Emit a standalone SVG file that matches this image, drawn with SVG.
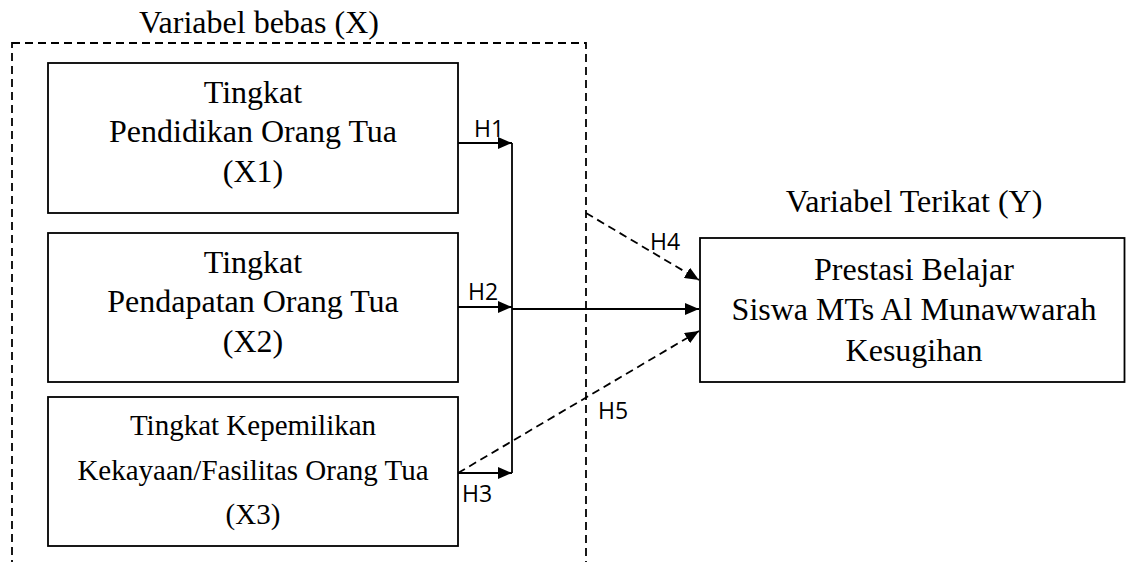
<svg xmlns="http://www.w3.org/2000/svg" width="1126" height="562" viewBox="0 0 1126 562">
<style>
.box{fill:#fff;stroke:#000;stroke-width:1.8}
.t{font-family:"Liberation Serif","Times New Roman",serif;font-size:32px;fill:#000;text-anchor:middle}
.ts{font-family:"Liberation Serif","Times New Roman",serif;font-size:29px;fill:#000;text-anchor:middle}
.h{font-family:"Open Sans","Liberation Sans",sans-serif;font-size:23px;fill:#000}
.ln{fill:none;stroke:#000;stroke-width:1.8}
.dl{fill:none;stroke:#000;stroke-width:1.8;stroke-dasharray:8 5}
</style>
<defs>
<marker id="ah" markerWidth="14" markerHeight="12" refX="14" refY="6" orient="auto" markerUnits="userSpaceOnUse">
<path d="M0,0 L14,6 L0,12 Z" fill="#000"/>
</marker>
</defs>
<g id="group-x">
<rect x="12" y="43" width="574" height="540" class="dl"/>
<text x="259" y="33" class="t">Variabel bebas (X)</text>
</g>
<g id="x1">
<rect x="48" y="63" width="410" height="150" class="box"/>
<text x="253" y="103" class="t">Tingkat</text>
<text x="253" y="142" class="t">Pendidikan Orang Tua</text>
<text x="253" y="182" class="t">(X1)</text>
</g>
<g id="x2">
<rect x="48" y="233" width="410" height="149" class="box"/>
<text x="253" y="273" class="t">Tingkat</text>
<text x="253" y="312" class="t">Pendapatan Orang Tua</text>
<text x="253" y="352" class="t">(X2)</text>
</g>
<g id="x3">
<rect x="48" y="397" width="410" height="149" class="box"/>
<text x="253" y="435" class="ts">Tingkat Kepemilikan</text>
<text x="253" y="480" class="ts">Kekayaan/Fasilitas Orang Tua</text>
<text x="253" y="524" class="ts">(X3)</text>
</g>
<g id="y">
<text x="914" y="212" class="t">Variabel Terikat (Y)</text>
<rect x="700" y="238" width="424.5" height="144" class="box"/>
<text x="914" y="280" class="t">Prestasi Belajar</text>
<text x="914" y="320" class="t">Siswa MTs Al Munawwarah</text>
<text x="914" y="361" class="t">Kesugihan</text>
</g>
<g id="connectors">
<line x1="458" y1="143" x2="512" y2="143" class="ln" marker-end="url(#ah)"/>
<line x1="458" y1="307" x2="512" y2="307" class="ln" marker-end="url(#ah)"/>
<line x1="458" y1="473" x2="512" y2="473" class="ln" marker-end="url(#ah)"/>
<line x1="512" y1="143" x2="512" y2="473" class="ln"/>
<line x1="512" y1="309" x2="699" y2="309" class="ln" marker-end="url(#ah)"/>
<line x1="586" y1="213" x2="699" y2="280" class="dl" marker-end="url(#ah)"/>
<line x1="458" y1="473" x2="699" y2="331" class="dl" marker-end="url(#ah)"/>
<text x="474" y="137" class="h">H1</text>
<text x="468" y="300" class="h">H2</text>
<text x="462" y="502" class="h">H3</text>
<text x="650" y="250" class="h">H4</text>
<text x="598" y="419" class="h">H5</text>
</g>
</svg>
